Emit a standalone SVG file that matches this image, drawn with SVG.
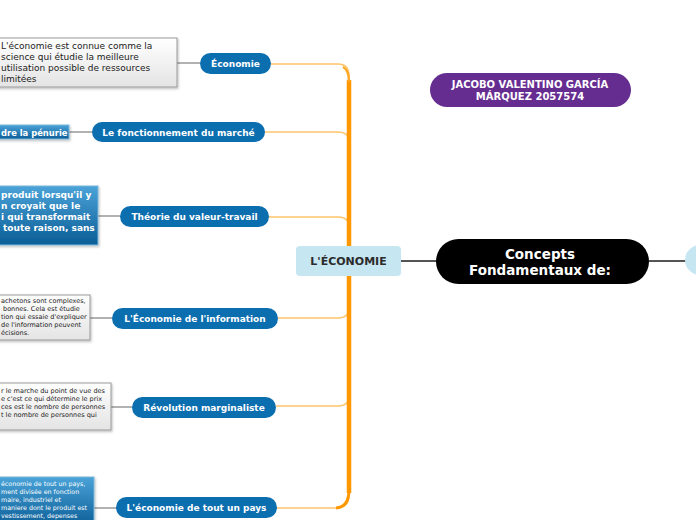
<svg xmlns="http://www.w3.org/2000/svg" width="696" height="520" viewBox="0 0 696 520">
<defs>
<linearGradient id="gGray" x1="0" y1="0" x2="0" y2="1"><stop offset="0" stop-color="#ffffff"/><stop offset="1" stop-color="#e4e4e4"/></linearGradient>
<linearGradient id="gBlue" x1="0" y1="0" x2="0" y2="1"><stop offset="0" stop-color="#4aa3d8"/><stop offset="1" stop-color="#0b5d96"/></linearGradient>
<filter id="sh" x="-10%" y="-10%" width="130%" height="140%"><feDropShadow dx="1" dy="1.5" stdDeviation="1" flood-color="#000" flood-opacity="0.25"/></filter>
</defs>
<style>
.node{fill:#0b6eaf}
.nt{font-family:"DejaVu Sans",Verdana,sans-serif;font-size:9px;font-weight:bold;fill:#fff;text-anchor:middle}
.noteG{fill:url(#gGray);stroke:#999;stroke-width:1}
.noteB{fill:url(#gBlue);stroke:#7ab8dc;stroke-width:1}
.tg{font-family:"DejaVu Sans",Verdana,sans-serif;fill:#222}
.tb{font-family:"DejaVu Sans",Verdana,sans-serif;fill:#fff}
.br{fill:none;stroke:#ffc46b;stroke-width:1.5}
.nl{fill:none;stroke:#999;stroke-width:1.5}
.dk{fill:none;stroke:#555;stroke-width:2}
</style>
<rect width="696" height="520" fill="#fff"/>
<g id="connectors">
<path class="br" d="M271 64 H338 Q349 64 349 76 V261"/>
<path class="br" d="M265 132 H338 Q349 132 349 142 V261"/>
<path class="br" d="M269 217 H338 Q349 217 349 227 V261"/>
<path class="br" d="M278 318 H338 Q349 318 349 308 V261"/>
<path class="br" d="M276 406 H338 Q349 406 349 396 V261"/>
<path class="br" d="M277 508 H336 Q349 508 349 495 V261"/>
<path d="M349 80 V493" stroke="#ff9800" stroke-width="4.5" fill="none"/>
<path d="M349 490 Q349 507 336 508" stroke="#ff9800" stroke-width="3" fill="none"/>
<path d="M343 67 Q349 70 349 82" stroke="#ffa726" stroke-width="2.5" fill="none"/>
<path class="nl" d="M177 63 H200"/>
<path class="nl" d="M69 132 H92"/>
<path class="nl" d="M98 216 H120"/>
<path class="nl" d="M90 318 H112"/>
<path class="nl" d="M111 407 H132"/>
<path class="nl" d="M94 508 H116"/>
<path class="dk" d="M401 261 H436"/>
<path class="dk" d="M649 261 H688"/>
</g>
<g id="note1"><rect class="noteG" x="-5" y="38" width="182" height="49" filter="url(#sh)"/>
<text class="tg" font-size="9"><tspan x="1" y="49">L'économie est connue comme la</tspan><tspan x="1" y="60">science qui étudie la meilleure</tspan><tspan x="1" y="71">utilisation possible de ressources</tspan><tspan x="1" y="82">limitées</tspan></text></g>
<g id="note2"><rect class="noteB" x="-5" y="125" width="74" height="14" filter="url(#sh)"/>
<text class="tb" font-size="8.4" font-weight="bold" x="1" y="135.5">dre la pénurie</text></g>
<g id="note3"><rect class="noteB" x="-5" y="186" width="103" height="59" filter="url(#sh)"/>
<text class="tb" font-size="9" font-weight="bold"><tspan x="1" y="198">produit lorsqu'il y</tspan><tspan x="1" y="209">n croyait que le</tspan><tspan x="1" y="220">i qui transformait</tspan><tspan x="3" y="231">toute raison, sans</tspan></text></g>
<g id="note4"><rect class="noteG" x="-5" y="295" width="95" height="45" filter="url(#sh)"/>
<text class="tg" font-size="6.5"><tspan x="1" y="303">achetons sont complexes,</tspan><tspan x="3" y="311">bonnes. Cela est étudie</tspan><tspan x="1" y="319">tion qui essaie d'expliquer</tspan><tspan x="1" y="327">de l'information peuvent</tspan><tspan x="1" y="335">écisions.</tspan></text></g>
<g id="note5"><rect class="noteG" x="-5" y="383" width="116" height="47" filter="url(#sh)"/>
<text class="tg" font-size="6.5"><tspan x="1" y="393">r le marche du point de vue des</tspan><tspan x="1" y="401">e c'est ce qui détermine le prix</tspan><tspan x="1" y="409">ces est le nombre de personnes</tspan><tspan x="1" y="417">t le nombre de personnes qui</tspan></text></g>
<g id="note6"><rect class="noteB" x="-5" y="477" width="99" height="50" filter="url(#sh)"/>
<text class="tb" font-size="6.3"><tspan x="1" y="486">économie de tout un pays,</tspan><tspan x="1" y="494">ment divisée en fonction</tspan><tspan x="1" y="502">maire, industriel et</tspan><tspan x="1" y="510">maniere dont le produit est</tspan><tspan x="1" y="518">vestissement, depenses</tspan></text></g>
<g id="n-economie"><rect class="node" x="200" y="53" width="71" height="21" rx="10.5"/><text class="nt" x="235.5" y="67">Économie</text></g>
<g id="n-marche"><rect class="node" x="92" y="122" width="173" height="20" rx="10"/><text class="nt" x="178.5" y="135.5">Le fonctionnement du marché</text></g>
<g id="n-theorie"><rect class="node" x="120" y="206" width="149" height="21" rx="10.5"/><text class="nt" x="194.5" y="220">Théorie du valeur-travail</text></g>
<g id="n-information"><rect class="node" x="112" y="308" width="166" height="21" rx="10.5"/><text class="nt" x="195" y="322">L'Économie de l'information</text></g>
<g id="n-revolution"><rect class="node" x="132" y="397" width="144" height="21" rx="10.5"/><text class="nt" x="204" y="411">Révolution marginaliste</text></g>
<g id="n-pays"><rect class="node" x="116" y="497" width="161" height="21" rx="10.5"/><text class="nt" x="196.5" y="511">L'économie de tout un pays</text></g>
<g id="n-center"><rect x="296" y="246" width="105" height="30" rx="4" fill="#c6e6f2"/><text x="348.5" y="265" font-family="'DejaVu Sans',Verdana,sans-serif" font-size="11" font-weight="bold" fill="#2b2b2b" text-anchor="middle">L'ÉCONOMIE</text></g>
<g id="n-root"><rect x="436" y="239" width="213" height="45" rx="22.5" fill="#000"/><text font-family="'DejaVu Sans',Verdana,sans-serif" font-size="13.5" font-weight="bold" fill="#fff" text-anchor="middle"><tspan x="540" y="259">Concepts</tspan><tspan x="540" y="275">Fondamentaux de:</tspan></text></g>
<g id="n-right"><rect x="685" y="245" width="40" height="30" rx="15" fill="#c6e6f2"/></g>
<g id="n-author"><rect x="430" y="73" width="201" height="34" rx="17" fill="#662d91"/><text font-family="'DejaVu Sans',Verdana,sans-serif" font-size="10" font-weight="bold" fill="#fff" text-anchor="middle"><tspan x="530" y="88">JACOBO VALENTINO GARCÍA</tspan><tspan x="530" y="100">MÁRQUEZ 2057574</tspan></text></g>
</svg>
